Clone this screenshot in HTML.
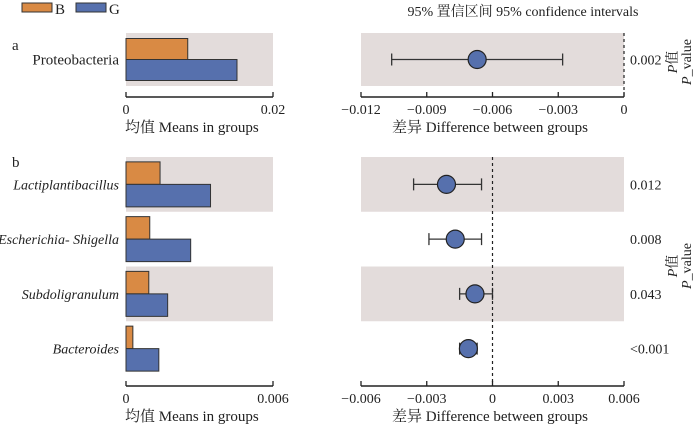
<!DOCTYPE html>
<html><head><meta charset="utf-8"><style>
html,body{margin:0;padding:0;background:#fff}
svg text{font-family:"Liberation Serif","Noto Serif CJK SC",serif;fill:#222}
</style></head><body>
<svg id="c" width="700" height="425" viewBox="0 0 700 425" xmlns="http://www.w3.org/2000/svg">
<g>
<rect x="22" y="3" width="30" height="9" fill="#d98a44" stroke="#333"/>
<text x="55" y="14" font-size="15">B</text>
<rect x="76" y="3" width="30" height="9" fill="#5670ad" stroke="#333"/>
<text x="109" y="14" font-size="15">G</text>
</g>
<text x="523" y="16" font-size="14" text-anchor="middle">95% 置信区间 95% confidence intervals</text>
<text x="12" y="50" font-size="15">a</text>
<text x="12" y="167" font-size="15">b</text>
<g id="g"></g>
<g transform="translate(677,62) rotate(-90)"><text x="0" y="0" font-size="14" text-anchor="middle" font-style="italic">P<tspan font-style="normal">值</tspan></text><text x="0" y="14" font-size="14" text-anchor="middle"><tspan font-style="italic">P</tspan>_value</text></g>
<g transform="translate(677,266) rotate(-90)"><text x="0" y="0" font-size="14" text-anchor="middle" font-style="italic">P<tspan font-style="normal">值</tspan></text><text x="0" y="14" font-size="14" text-anchor="middle"><tspan font-style="italic">P</tspan>_value</text></g>
</svg>
<script>
const catsA=["Proteobacteria"];
const bA=[0.0084];
const gA=[0.0151];
const diffA=[-0.0067];
const loA=[-0.0106];
const hiA=[-0.0028];
const pA=["0.002"];
const catsB=["Lactiplantibacillus","Escherichia- Shigella","Subdoligranulum","Bacteroides"];
const bB=[0.00139,0.00097,0.00093,0.00028];
const gB=[0.00345,0.00264,0.0017,0.00134];
const diffB=[-0.0021,-0.0017,-0.0008,-0.0011];
const loB=[-0.0036,-0.0029,-0.0015,-0.0015];
const hiB=[-0.0005,-0.0005,0.0,-0.0007];
const pB=["0.012","0.008","0.043","<0.001"];
const ticksAL=[0,0.02], ticksAR=[-0.012,-0.009,-0.006,-0.003,0];
const ticksBL=[0,0.006], ticksBR=[-0.006,-0.003,0,0.003,0.006];
const NS="http://www.w3.org/2000/svg", G=document.getElementById('g');
function el(t,a,p){const e=document.createElementNS(NS,t);for(const k in a)e.setAttribute(k,a[k]);(p||G).appendChild(e);return e;}
function lin(d0,d1,r0,r1){return v=>r0+(v-d0)/(d1-d0)*(r1-r0);}
function fmt(v){if(v===0)return"0";const s=Math.abs(v).toString().replace(/^0/,"");return (v<0?"−":"")+"0"+s;}
function panel(cats,bv,gv,dv,lo,hi,pv,top,rowH,shadeAll,tl,tr,axisY,italic){
  const lx=lin(tl[0],tl[tl.length-1],126,273), rx=lin(tr[0],tr[tr.length-1],361,624);
  cats.forEach((c,i)=>{
    const y0=top+i*rowH, cy=y0+rowH/2;
    if(shadeAll||i%2===0){
      let r=el('rect',{x:126,y:y0,width:147,height:rowH,fill:'#e3dcdb'});
      
      
      r=el('rect',{x:361,y:y0,width:263,height:rowH,fill:'#e3dcdb'});
      
      
    }
    const bh=rowH===53?21:22.5;
    let b=el('rect',{x:lx(0),y:cy-bh,width:lx(bv[i])-lx(0),height:bh,fill:'#d98a44',stroke:'#333','stroke-width':1});
    
    
    b=el('rect',{x:lx(0),y:cy,width:lx(gv[i])-lx(0),height:bh,fill:'#5670ad',stroke:'#333','stroke-width':1});
    
    
    const t=el('text',{x:119,y:cy+5,'font-size':italic?14:15,'text-anchor':'end','font-style':italic?'italic':'normal'});
    t.textContent=c;
    
    
    const eg=el('g',{});
    
    
    el('line',{x1:rx(lo[i]),x2:rx(hi[i]),y1:cy,y2:cy,stroke:'#333','stroke-width':1.3},eg);
    el('line',{x1:rx(lo[i]),x2:rx(lo[i]),y1:cy-6,y2:cy+6,stroke:'#333','stroke-width':1.3},eg);
    el('line',{x1:rx(hi[i]),x2:rx(hi[i]),y1:cy-6,y2:cy+6,stroke:'#333','stroke-width':1.3},eg);
    const pt=el('circle',{cx:rx(dv[i]),cy:cy,r:9,fill:'#5670ad',stroke:'#222','stroke-width':1.2});
    
    
    const pt2=el('text',{x:630,y:cy+5,'font-size':14});
    pt2.textContent=pv[i];
    
    
  });
  const z=el('line',{x1:rx(0),x2:rx(0),y1:top,y2:axisY,stroke:'#222','stroke-dasharray':'3,3','stroke-width':1.2});
  
  
  [[lx,tl,'left'],[rx,tr,'right']].forEach(([s,tk,nm])=>{
    const ax=el('g',{});
    
    
    el('line',{x1:s(tk[0]),x2:s(tk[tk.length-1]),y1:axisY,y2:axisY,stroke:'#222','stroke-width':1.5},ax);
    tk.forEach(v=>{
      el('line',{x1:s(v),x2:s(v),y1:axisY-5,y2:axisY,stroke:'#222','stroke-width':1.3},ax);
      const t=el('text',{x:s(v),y:axisY+17,'font-size':14,'text-anchor':'middle'},ax);t.textContent=fmt(v);
    });
    const tt=el('text',{x:nm==='left'?125:392,y:axisY+35,'font-size':15},ax);
    tt.textContent=nm==='left'?'均值  Means in groups':'差异  Difference between groups';
  });
}
panel(catsA,bA,gA,diffA,loA,hiA,pA,33,53,true,ticksAL,ticksAR,97,false);
panel(catsB,bB,gB,diffB,loB,hiB,pB,157,54.75,false,ticksBL,ticksBR,386,true);
</script>
</body></html>
